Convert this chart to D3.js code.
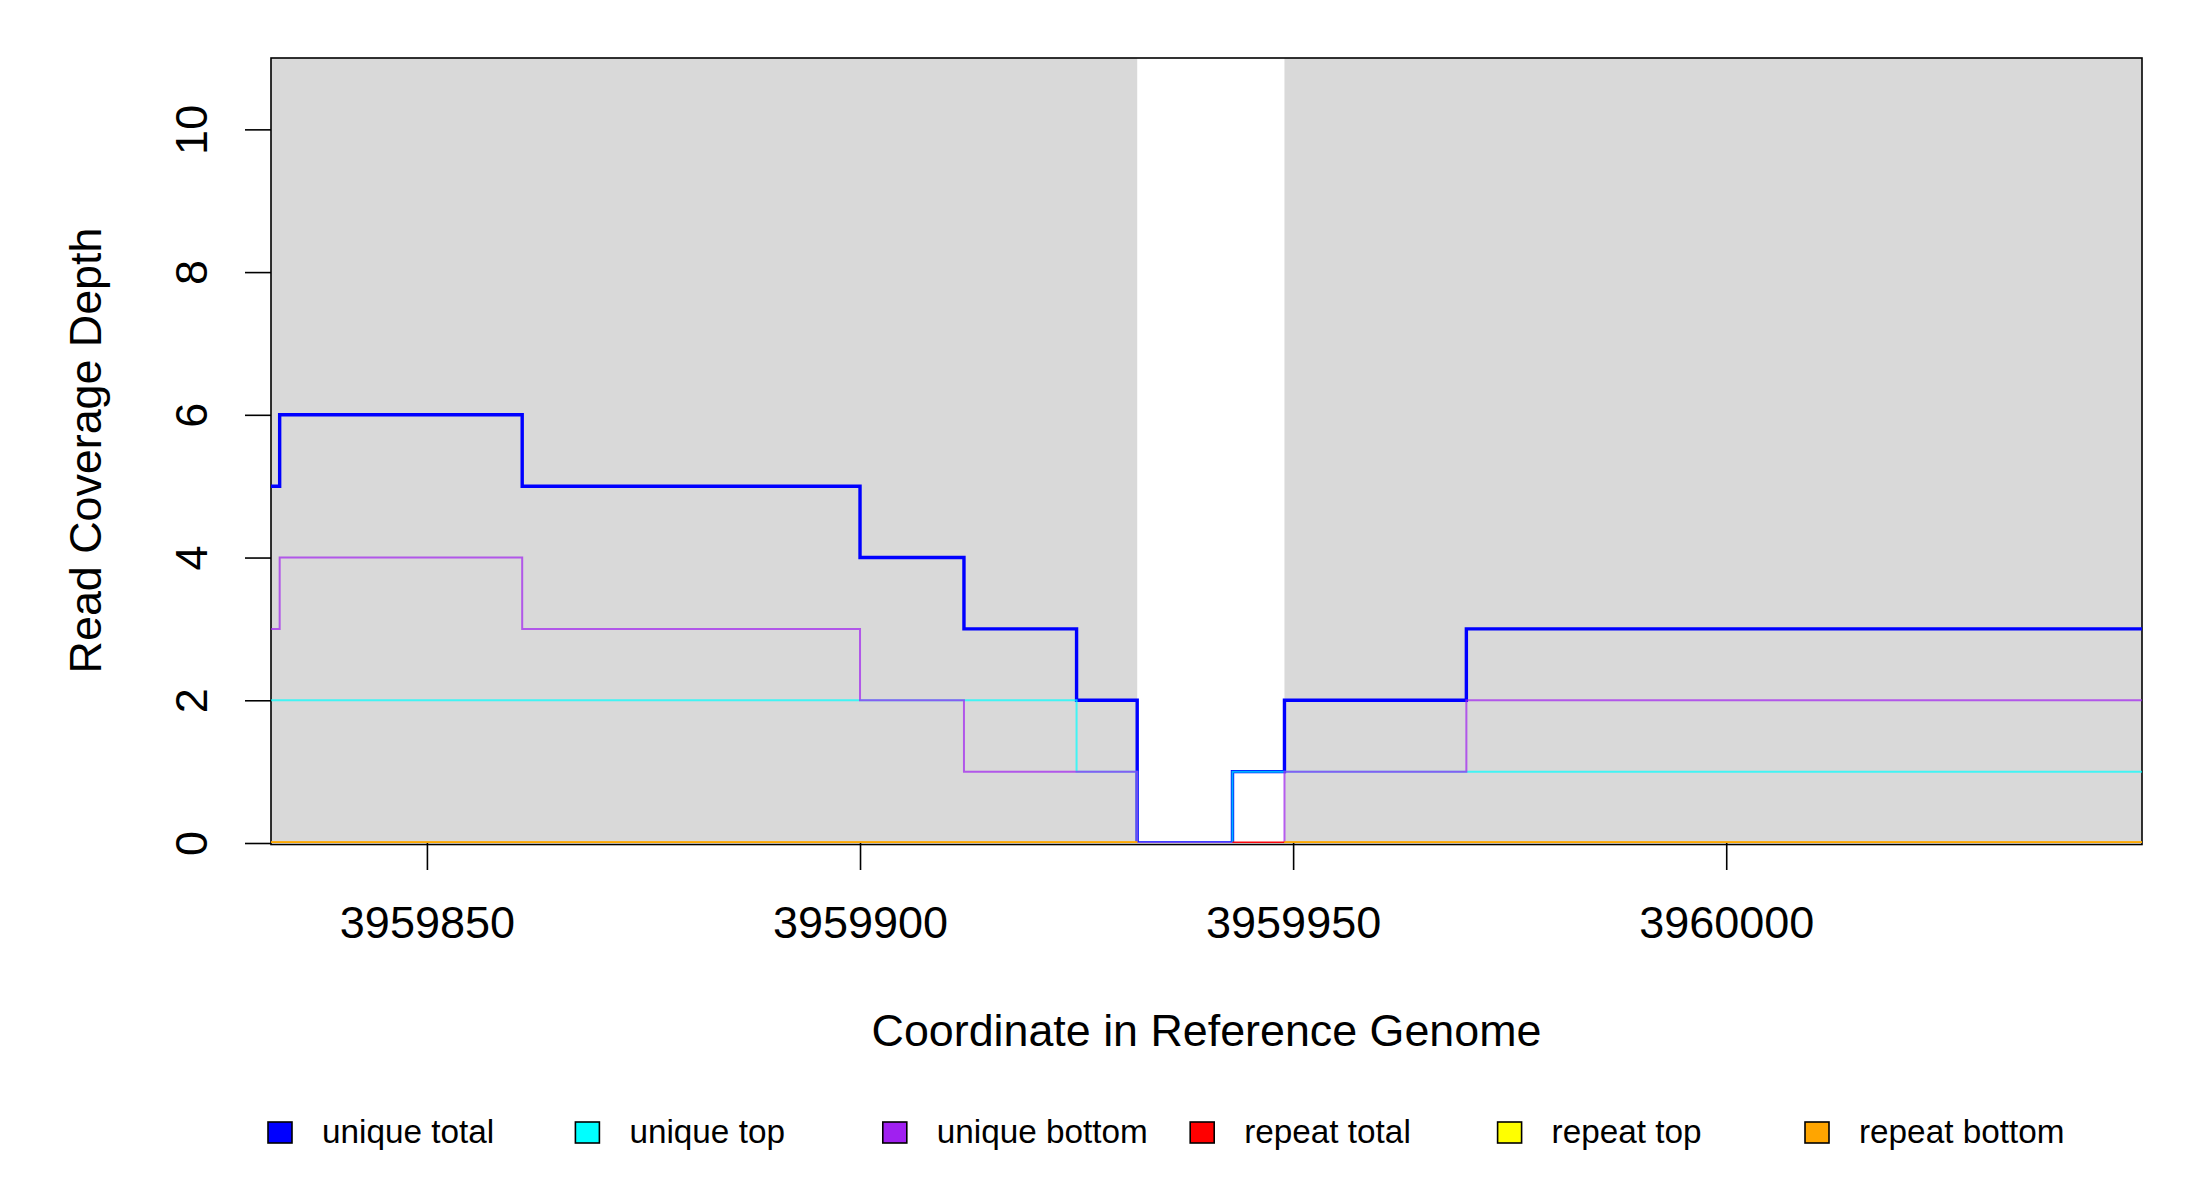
<!DOCTYPE html>
<html>
<head>
<meta charset="utf-8">
<script src="https://cdn.jsdelivr.net/npm/d3@7"></script>
<style>
  html, body { margin: 0; padding: 0; background: #ffffff; }
  svg { display: block; }
  text { font-family: "Liberation Sans", Arial, sans-serif; fill: #000; }
</style>
</head>
<body>
<svg id="chart" width="2200" height="1200"></svg>
<script>
// ---------------- data ----------------
const xDomain = [3959832, 3960048];
const yDomain = [0, 11];
const xTicks = [3959850, 3959900, 3959950, 3960000];
const yTicks = [0, 2, 4, 6, 8, 10];

// start coordinate of each constant-coverage step (last value = end of data)
const stepStarts = [3959832, 3959833, 3959861, 3959900, 3959912, 3959925, 3959932, 3959943, 3959949, 3959970, 3960048];

const uniqueTotal  = [5, 6, 5, 4, 3, 2, 0, 1, 2, 3];
const uniqueTop    = [2, 2, 2, 2, 2, 1, 0, 1, 1, 1];
const uniqueBottom = [3, 4, 3, 2, 1, 1, 0, 0, 1, 2];
const repeatTotal  = [0, 0, 0, 0, 0, 0, null, 0, 0, 0];
const repeatTop    = [0, 0, 0, 0, 0, 0, null, null, 0, 0];
const repeatBottom = [0, 0, 0, 0, 0, 0, null, null, 0, 0];

// shaded (covered) regions
const shadedRegions = [[3959832, 3959932], [3959949, 3960048]];

const seriesNames  = ["unique total", "unique top", "unique bottom", "repeat total", "repeat top", "repeat bottom"];
const seriesColors = ["#0000FF", "#00FFFF", "#A020F0", "#FF0000", "#FFFF00", "#FFA500"];
const seriesValues = [uniqueTotal, uniqueTop, uniqueBottom, repeatTotal, repeatTop, repeatBottom];

const xTitle = "Coordinate in Reference Genome";
const yTitle = "Read Coverage Depth";

// ---------------- layout ----------------
const plot = { left: 271, top: 58, right: 2142, bottom: 843 };
const svg = d3.select("#chart");

const x = d3.scaleLinear().domain(xDomain).range([plot.left, plot.right]);
const y = d3.scaleLinear().domain(yDomain).range([plot.bottom, plot.top]);

// background
svg.append("rect").attr("x", 0).attr("y", 0).attr("width", 2200).attr("height", 1200).attr("fill", "#fff");

// shaded regions
svg.append("g").selectAll("rect").data(shadedRegions).join("rect")
  .attr("x", d => x(d[0]))
  .attr("y", y(yDomain[1]))
  .attr("width", d => x(d[1]) - x(d[0]))
  .attr("height", y(yDomain[0]) - y(yDomain[1]))
  .attr("fill", "#D9D9D9");

// plot border
svg.append("rect")
  .attr("x", plot.left).attr("y", plot.top)
  .attr("width", plot.right - plot.left)
  .attr("height", plot.bottom + 1.5 - plot.top)
  .attr("fill", "none").attr("stroke", "#000").attr("stroke-width", 1.6);

// step lines
function stepPoints(values) {
  const pts = [];
  values.forEach((v, i) => {
    pts.push([stepStarts[i], v]);
    pts.push([stepStarts[i + 1], v]);
    if (v === null) pts.push([stepStarts[i + 1], null]);
  });
  return pts;
}
const line = d3.line()
  .defined(d => d[1] !== null)
  .x(d => x(d[0]))
  .y(d => y(d[1]));

svg.append("defs").append("clipPath").attr("id", "plotclip")
  .append("rect").attr("x", plot.left).attr("y", plot.top - 2)
  .attr("width", plot.right - plot.left).attr("height", plot.bottom - plot.top + 2);

const lineG = svg.append("g").attr("clip-path", "url(#plotclip)");
seriesValues.forEach((vals, i) => {
  lineG.append("path")
    .datum(stepPoints(vals))
    .attr("d", line)
    .attr("fill", "none")
    .attr("stroke", seriesColors[i])
    .attr("stroke-width", i === 0 ? 3.4 : (i >= 3 ? 3 : 2))
    .attr("stroke-opacity", i === 0 ? 1 : (i >= 3 ? 0.95 : 0.7))
    .attr("stroke-linejoin", "miter")
    .attr("stroke-linecap", "butt");
});

// x axis
const xAxis = d3.axisBottom(x).tickValues(xTicks).tickSize(27).tickFormat(d3.format("d"));
const gx = svg.append("g").attr("transform", `translate(0,${plot.bottom})`).call(xAxis);
gx.select(".domain").remove();
gx.selectAll(".tick line").attr("stroke", "#000").attr("stroke-width", 1.6);
gx.selectAll(".tick text")
  .attr("y", 0).attr("dy", 0)
  .attr("transform", "translate(0,95)")
  .style("font-size", "45px")
  .style("font-family", "'Liberation Sans', Arial, sans-serif")
  .attr("fill", "#000");

// y axis
const yAxis = d3.axisLeft(y).tickValues(yTicks).tickSize(26).tickFormat(d3.format("d"));
const gy = svg.append("g").attr("transform", `translate(${plot.left},0)`).call(yAxis);
gy.select(".domain").remove();
gy.selectAll(".tick line").attr("stroke", "#000").attr("stroke-width", 1.6);
gy.selectAll(".tick text")
  .attr("x", 0).attr("dy", 0)
  .attr("text-anchor", "middle")
  .attr("transform", `translate(${207 - plot.left},0) rotate(-90)`)
  .style("font-size", "45px")
  .style("font-family", "'Liberation Sans', Arial, sans-serif")
  .attr("fill", "#000");

// axis titles
svg.append("text")
  .attr("x", (plot.left + plot.right) / 2).attr("y", 1046)
  .attr("text-anchor", "middle")
  .style("font-size", "44.8px")
  .text(xTitle);

svg.append("text")
  .attr("transform", `translate(101,${(plot.top + plot.bottom) / 2}) rotate(-90)`)
  .attr("text-anchor", "middle")
  .style("font-size", "44.8px")
  .text(yTitle);

// legend
const legendX0 = 268, legendStep = 307.4, legendBoxY = 1122;
const lg = svg.append("g");
seriesNames.forEach((name, i) => {
  const gx0 = legendX0 + i * legendStep;
  lg.append("rect")
    .attr("x", gx0).attr("y", legendBoxY)
    .attr("width", 24).attr("height", 21)
    .attr("fill", seriesColors[i])
    .attr("stroke", "#000").attr("stroke-width", 1.6);
  lg.append("text")
    .attr("x", gx0 + 54).attr("y", 1143)
    .style("font-size", "33.3px")
    .text(name);
});
</script>
</body>
</html>
